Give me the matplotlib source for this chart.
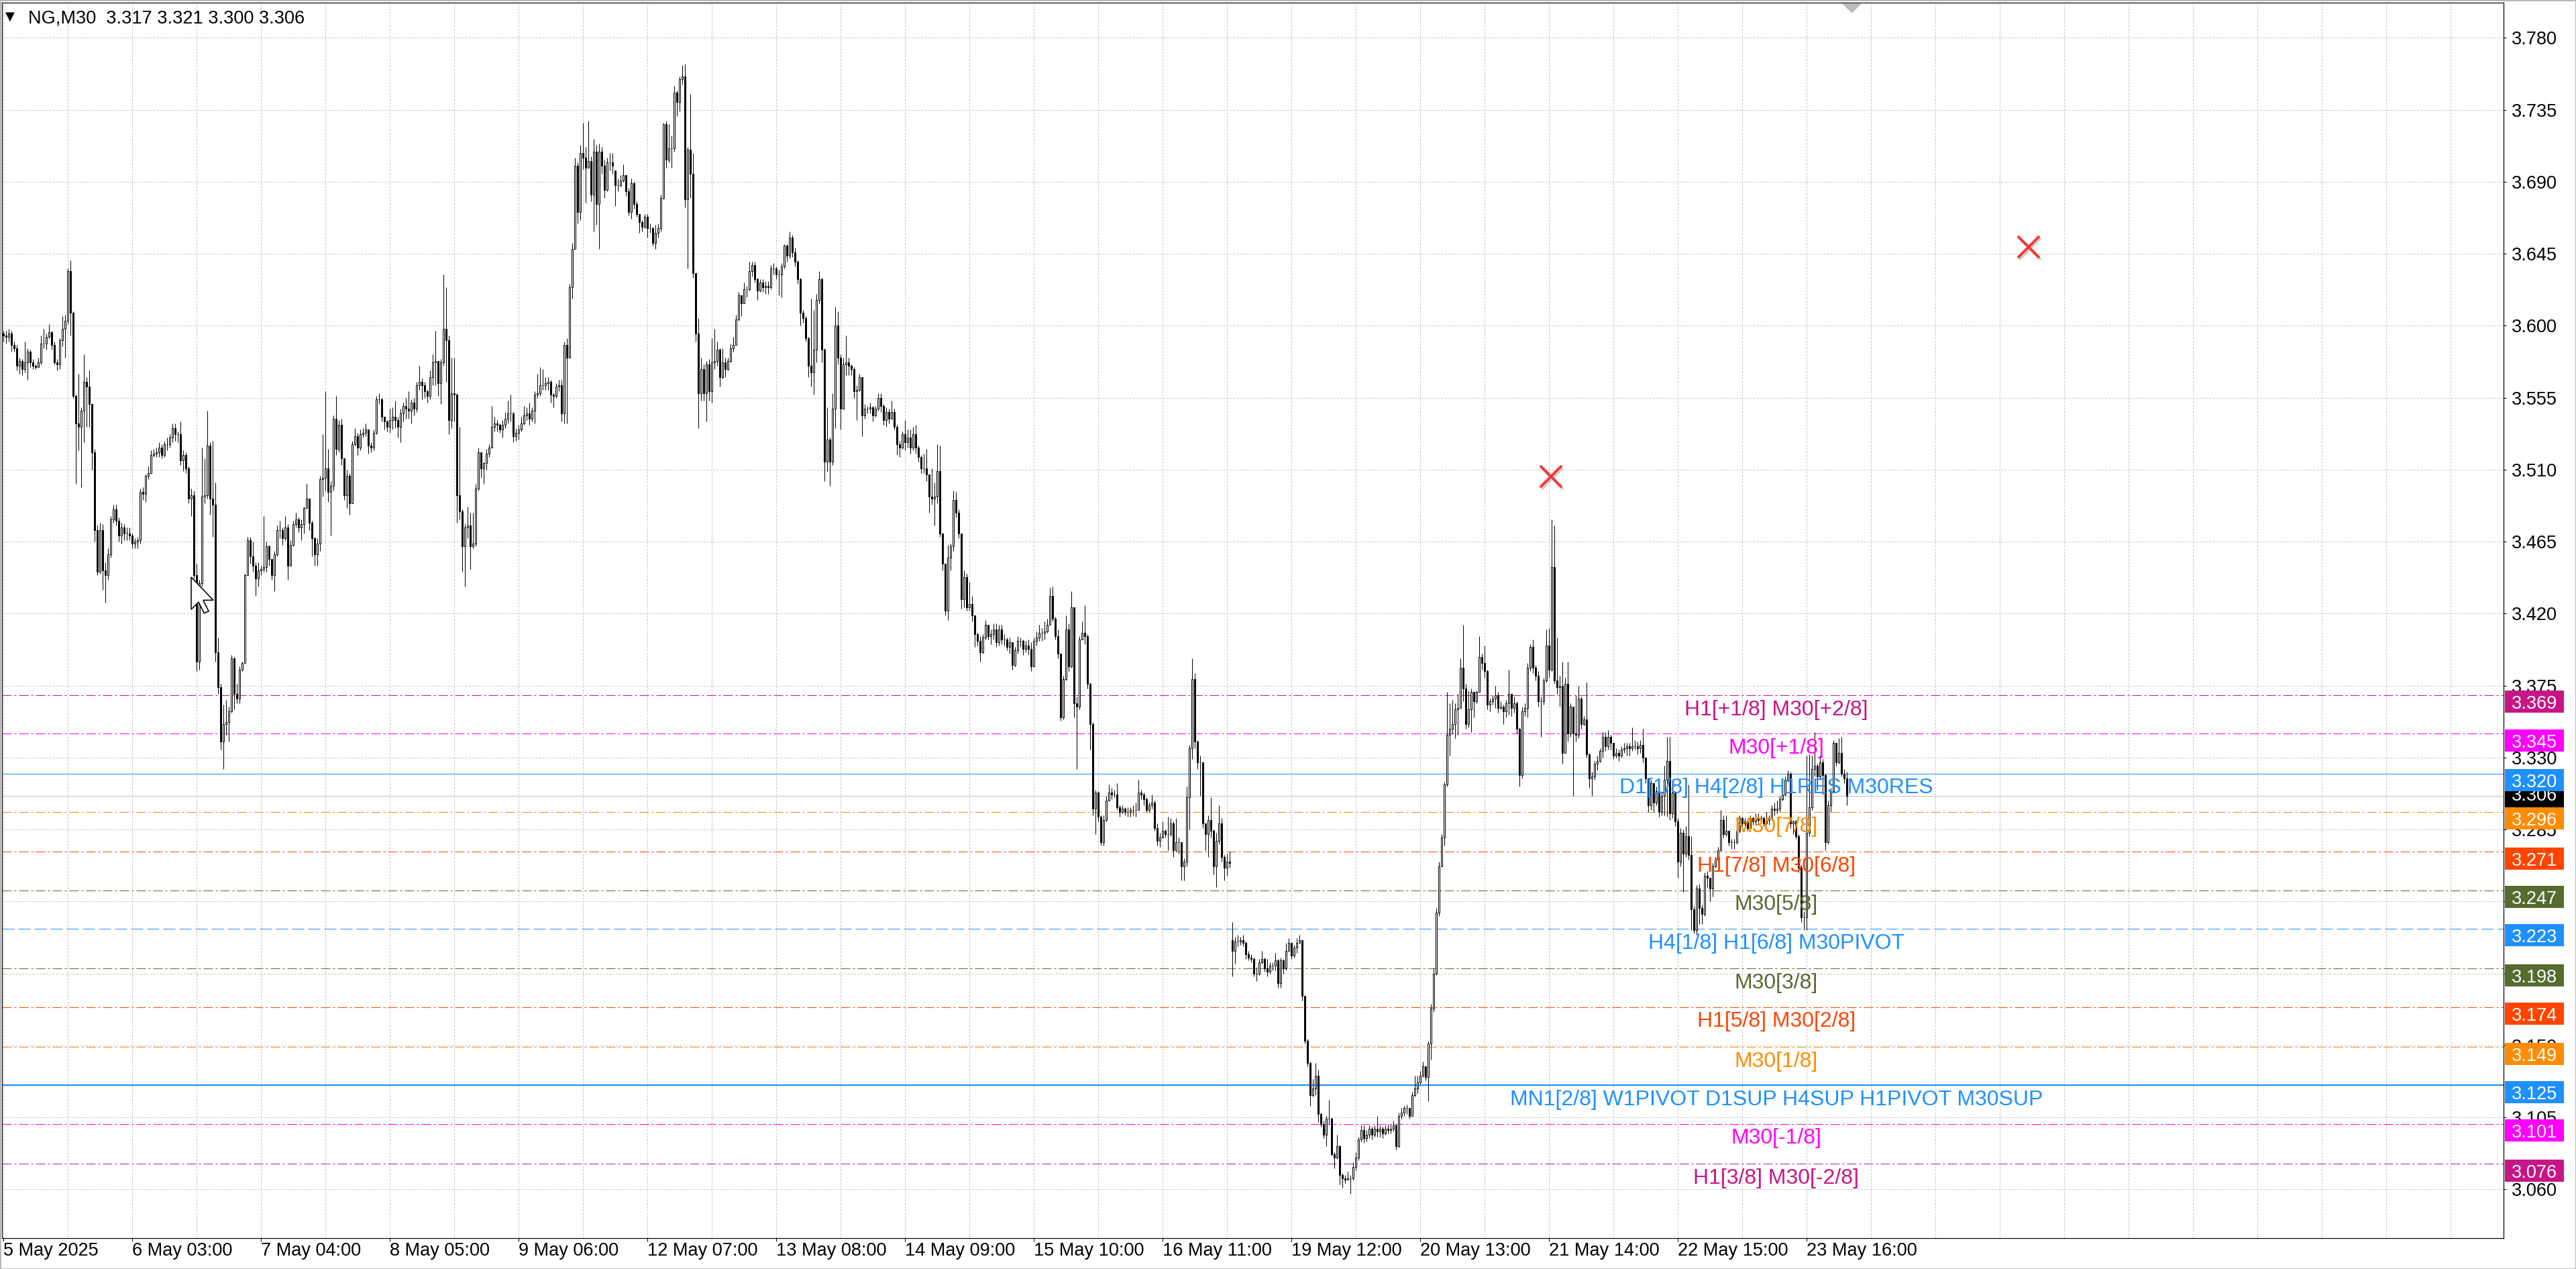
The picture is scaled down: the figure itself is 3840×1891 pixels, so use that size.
import numpy as np
import matplotlib
matplotlib.use("Agg")
import matplotlib.pyplot as plt
from matplotlib import transforms
from matplotlib.patches import Rectangle, Polygon
from matplotlib.markers import MarkerStyle

plt.rcParams['font.family'] = ['Liberation Sans', 'DejaVu Sans']

# ---------------- data (prices in thousandths, NG M30 bars) ----------------
w1_open = 3595
w1_close = [
    3594, 3593, 3595, 3588, 3586, 3575, 3578, 3573, 3577, 3584,
    3577, 3575, 3574, 3577, 3589, 3589, 3593, 3596, 3588, 3577,
    3576, 3591, 3598, 3603, 3634, 3608, 3556, 3539, 3537, 3547,
    3565, 3562, 3551, 3521, 3472, 3446, 3472, 3447, 3444, 3457,
    3479, 3485, 3478, 3469, 3474, 3470, 3470, 3469, 3464, 3465,
    3466, 3496, 3495, 3506, 3508, 3519, 3520, 3521, 3524, 3519,
    3526, 3526, 3530, 3536, 3532, 3532, 3516, 3519, 3511, 3492,
    3494, 3444, 3390, 3439, 3493, 3494, 3525, 3492, 3488, 3396,
    3374, 3340, 3351, 3352, 3359, 3392, 3370, 3367, 3385, 3389,
    3444, 3466, 3456, 3450, 3442, 3447, 3448, 3449, 3462, 3454,
    3444, 3457, 3472, 3472, 3467, 3474, 3450, 3463, 3476, 3479,
    3474, 3476, 3486, 3492, 3477, 3467, 3457, 3464, 3504, 3505,
    3511, 3496, 3500, 3542, 3523, 3538, 3517, 3494, 3506, 3489,
    3526, 3531, 3524, 3532, 3533, 3535, 3525, 3524, 3533, 3554,
    3554, 3543, 3540, 3537, 3541, 3543, 3541, 3537, 3545, 3550,
    3548, 3547, 3552, 3548, 3563, 3565, 3563, 3559, 3556, 3568,
    3577, 3578, 3564, 3577, 3598, 3591, 3541, 3558, 3557, 3494,
    3484, 3462, 3474, 3475, 3462, 3464, 3498, 3521, 3511, 3514,
    3520, 3524, 3537, 3539, 3538, 3535, 3538, 3542, 3545, 3545,
    3531, 3533, 3535, 3539, 3544, 3545, 3542, 3547, 3557, 3558,
    3563, 3563, 3564, 3565, 3557, 3556, 3562, 3563, 3545, 3588,
    3580, 3624, 3648, 3700, 3671, 3708, 3705, 3699, 3703, 3682,
    3709, 3676, 3709, 3700, 3685, 3702, 3702, 3700]
w1_high = [
    3597, 3597, 3598, 3597, 3590, 3588, 3580, 3579, 3590, 3586,
    3585, 3579, 3576, 3580, 3594, 3598, 3595, 3601, 3597, 3590,
    3579, 3592, 3606, 3607, 3636, 3641, 3609, 3557, 3570, 3549,
    3582, 3568, 3572, 3550, 3523, 3475, 3477, 3476, 3452, 3461,
    3481, 3488, 3488, 3480, 3477, 3476, 3474, 3474, 3470, 3467,
    3468, 3498, 3499, 3507, 3512, 3522, 3523, 3524, 3527, 3526,
    3528, 3530, 3532, 3539, 3539, 3534, 3540, 3522, 3521, 3512,
    3498, 3497, 3451, 3441, 3524, 3517, 3547, 3527, 3528, 3502,
    3405, 3376, 3363, 3366, 3362, 3394, 3393, 3376, 3387, 3390,
    3445, 3468, 3468, 3465, 3452, 3452, 3450, 3481, 3465, 3463,
    3452, 3459, 3475, 3478, 3474, 3481, 3476, 3466, 3478, 3483,
    3480, 3479, 3487, 3501, 3492, 3478, 3468, 3467, 3506, 3532,
    3559, 3523, 3503, 3544, 3556, 3541, 3542, 3514, 3510, 3508,
    3528, 3536, 3533, 3535, 3536, 3539, 3534, 3527, 3535, 3556,
    3558, 3555, 3543, 3541, 3548, 3549, 3553, 3543, 3548, 3552,
    3555, 3559, 3554, 3555, 3565, 3575, 3567, 3565, 3560, 3572,
    3582, 3597, 3578, 3579, 3632, 3624, 3594, 3580, 3580, 3558,
    3537, 3485, 3476, 3487, 3483, 3483, 3501, 3524, 3521, 3515,
    3523, 3526, 3550, 3543, 3541, 3539, 3541, 3546, 3553, 3557,
    3546, 3536, 3538, 3543, 3550, 3549, 3552, 3549, 3559, 3570,
    3574, 3573, 3568, 3568, 3566, 3558, 3564, 3566, 3566, 3590,
    3592, 3626, 3652, 3705, 3702, 3713, 3727, 3712, 3728, 3706,
    3717, 3713, 3714, 3712, 3704, 3705, 3708, 3708]
w1_low = [
    3590, 3589, 3590, 3584, 3584, 3572, 3570, 3569, 3571, 3566,
    3574, 3573, 3573, 3574, 3576, 3586, 3585, 3592, 3585, 3576,
    3572, 3573, 3587, 3580, 3601, 3594, 3555, 3501, 3522, 3499,
    3527, 3537, 3537, 3510, 3465, 3444, 3445, 3435, 3427, 3441,
    3455, 3477, 3475, 3465, 3464, 3466, 3466, 3466, 3461, 3461,
    3461, 3464, 3491, 3490, 3504, 3508, 3518, 3518, 3518, 3517,
    3518, 3522, 3524, 3527, 3528, 3527, 3513, 3509, 3508, 3489,
    3481, 3442, 3384, 3385, 3437, 3489, 3492, 3482, 3468, 3390,
    3370, 3335, 3323, 3344, 3340, 3358, 3360, 3364, 3364, 3384,
    3403, 3444, 3451, 3446, 3431, 3437, 3444, 3446, 3446, 3450,
    3441, 3434, 3456, 3467, 3463, 3466, 3441, 3452, 3462, 3474,
    3471, 3466, 3470, 3486, 3472, 3456, 3450, 3450, 3459, 3493,
    3497, 3490, 3469, 3497, 3519, 3521, 3513, 3491, 3486, 3482,
    3489, 3525, 3519, 3522, 3530, 3531, 3520, 3521, 3522, 3532,
    3551, 3540, 3535, 3534, 3533, 3535, 3536, 3530, 3527, 3540,
    3542, 3542, 3539, 3544, 3546, 3560, 3554, 3555, 3552, 3554,
    3563, 3563, 3556, 3551, 3575, 3565, 3532, 3536, 3540, 3477,
    3479, 3446, 3437, 3467, 3448, 3461, 3462, 3497, 3505, 3501,
    3510, 3518, 3528, 3534, 3534, 3533, 3530, 3536, 3539, 3540,
    3527, 3528, 3529, 3534, 3538, 3541, 3538, 3540, 3539, 3555,
    3556, 3560, 3560, 3560, 3552, 3549, 3555, 3559, 3540, 3539,
    3539, 3580, 3617, 3648, 3664, 3666, 3698, 3677, 3699, 3678,
    3659, 3663, 3648, 3695, 3680, 3684, 3697, 3695]

w2_open = 3697
w2_close = [
    3688, 3688, 3691, 3694, 3684, 3671, 3689, 3676, 3670, 3665,
    3662, 3668, 3661, 3661, 3652, 3658, 3661, 3680, 3726, 3704,
    3711, 3711, 3746, 3740, 3754, 3756, 3679, 3710, 3695, 3633,
    3595, 3558, 3573, 3558, 3576, 3559, 3577, 3578, 3585, 3568,
    3577, 3573, 3578, 3586, 3588, 3604, 3619, 3614, 3623, 3623,
    3634, 3638, 3629, 3622, 3627, 3624, 3625, 3624, 3636, 3636,
    3632, 3632, 3637, 3650, 3644, 3655, 3646, 3640, 3629, 3608,
    3605, 3592, 3575, 3571, 3585, 3616, 3629, 3585, 3515, 3529,
    3515, 3548, 3600, 3580, 3548, 3576, 3577, 3575, 3573, 3559,
    3560, 3568, 3544, 3548, 3548, 3549, 3544, 3548, 3555, 3550,
    3541, 3546, 3542, 3546, 3537, 3526, 3524, 3532, 3527, 3530,
    3524, 3532, 3524, 3518, 3511, 3511, 3507, 3493, 3492, 3493,
    3509, 3470, 3451, 3422, 3455, 3462, 3491, 3483, 3470, 3429,
    3443, 3424, 3426, 3419, 3407, 3403, 3396, 3405, 3413, 3406,
    3407, 3410, 3402, 3410, 3404, 3404, 3399, 3402, 3388, 3397,
    3403, 3403, 3398, 3400, 3398, 3387, 3403, 3405, 3408, 3408,
    3409, 3413, 3431, 3417, 3406, 3395, 3355, 3379, 3410, 3387,
    3424, 3364, 3362, 3404, 3408, 3406, 3376, 3351, 3298, 3308,
    3293, 3277, 3291, 3303, 3308, 3307, 3307, 3299, 3296, 3298,
    3296, 3296, 3297, 3297, 3297, 3308, 3307, 3304, 3297, 3300,
    3302, 3286, 3278, 3280, 3284, 3282, 3282, 3289, 3272, 3277,
    3277, 3262, 3265, 3305, 3336, 3379, 3340, 3327, 3327, 3289,
    3282, 3291, 3284, 3262, 3278, 3289, 3268, 3261, 3265, 3264]
w2_high = [
    3697, 3692, 3694, 3701, 3694, 3686, 3692, 3690, 3678, 3670,
    3666, 3670, 3670, 3664, 3662, 3663, 3664, 3682, 3727, 3728,
    3726, 3719, 3750, 3747, 3756, 3763, 3764, 3712, 3745, 3708,
    3632, 3605, 3580, 3576, 3578, 3579, 3592, 3598, 3590, 3586,
    3586, 3580, 3580, 3589, 3593, 3607, 3621, 3616, 3627, 3625,
    3640, 3640, 3640, 3630, 3629, 3629, 3628, 3628, 3638, 3639,
    3637, 3635, 3639, 3651, 3651, 3659, 3657, 3649, 3641, 3630,
    3610, 3606, 3593, 3617, 3610, 3620, 3634, 3630, 3586, 3549,
    3530, 3558, 3612, 3609, 3582, 3580, 3594, 3580, 3576, 3574,
    3563, 3570, 3554, 3551, 3550, 3552, 3550, 3550, 3558, 3558,
    3551, 3549, 3548, 3553, 3548, 3538, 3528, 3534, 3541, 3535,
    3535, 3537, 3538, 3525, 3519, 3520, 3523, 3507, 3511, 3502,
    3526, 3525, 3470, 3450, 3463, 3464, 3497, 3496, 3485, 3470,
    3447, 3445, 3440, 3431, 3418, 3408, 3406, 3407, 3416, 3409,
    3410, 3414, 3414, 3413, 3413, 3407, 3405, 3405, 3400, 3399,
    3406, 3405, 3404, 3403, 3404, 3402, 3405, 3409, 3413, 3411,
    3415, 3417, 3436, 3437, 3418, 3410, 3395, 3381, 3419, 3414,
    3434, 3424, 3368, 3406, 3415, 3425, 3407, 3377, 3352, 3310,
    3309, 3294, 3294, 3306, 3313, 3311, 3310, 3314, 3300, 3300,
    3299, 3299, 3299, 3300, 3302, 3316, 3310, 3308, 3305, 3302,
    3307, 3303, 3289, 3283, 3290, 3285, 3293, 3292, 3290, 3292,
    3280, 3275, 3267, 3312, 3338, 3392, 3383, 3341, 3331, 3327,
    3287, 3294, 3305, 3285, 3283, 3300, 3292, 3269, 3270, 3271]
w2_low = [
    3675, 3684, 3687, 3690, 3681, 3669, 3667, 3673, 3668, 3658,
    3659, 3661, 3655, 3658, 3650, 3648, 3655, 3659, 3679, 3699,
    3702, 3699, 3709, 3731, 3734, 3751, 3674, 3636, 3680, 3630,
    3590, 3536, 3553, 3553, 3540, 3553, 3552, 3573, 3575, 3562,
    3567, 3568, 3572, 3577, 3584, 3588, 3603, 3606, 3614, 3618,
    3622, 3631, 3627, 3616, 3621, 3621, 3620, 3620, 3623, 3632,
    3629, 3619, 3618, 3636, 3640, 3642, 3643, 3637, 3626, 3600,
    3602, 3590, 3568, 3562, 3557, 3577, 3614, 3577, 3503, 3509,
    3500, 3513, 3536, 3576, 3535, 3550, 3569, 3569, 3569, 3555,
    3541, 3559, 3531, 3542, 3545, 3545, 3540, 3543, 3547, 3546,
    3538, 3537, 3539, 3542, 3535, 3519, 3518, 3523, 3522, 3524,
    3520, 3522, 3520, 3515, 3508, 3508, 3503, 3483, 3488, 3475,
    3489, 3468, 3447, 3419, 3416, 3447, 3459, 3480, 3467, 3423,
    3424, 3422, 3422, 3415, 3399, 3400, 3390, 3395, 3404, 3404,
    3401, 3404, 3399, 3400, 3401, 3400, 3397, 3395, 3385, 3387,
    3395, 3399, 3394, 3396, 3394, 3384, 3387, 3400, 3403, 3403,
    3404, 3408, 3413, 3415, 3404, 3392, 3353, 3354, 3378, 3384,
    3386, 3355, 3323, 3360, 3404, 3401, 3373, 3335, 3294, 3282,
    3290, 3275, 3275, 3290, 3303, 3304, 3305, 3297, 3293, 3295,
    3294, 3293, 3293, 3294, 3293, 3300, 3304, 3300, 3296, 3296,
    3298, 3284, 3275, 3274, 3280, 3280, 3272, 3281, 3268, 3271,
    3270, 3253, 3253, 3262, 3285, 3329, 3336, 3323, 3306, 3286,
    3272, 3268, 3280, 3257, 3249, 3276, 3265, 3253, 3256, 3261]

w3_open = 3216
w3_close = [
    3209, 3215, 3215, 3216, 3214, 3207, 3205, 3204, 3195, 3195,
    3202, 3204, 3198, 3196, 3200, 3200, 3203, 3189, 3203, 3198,
    3209, 3214, 3206, 3211, 3214, 3216, 3181, 3153, 3139, 3119,
    3123, 3131, 3107, 3101, 3094, 3104, 3104, 3082, 3080, 3087,
    3069, 3067, 3066, 3067, 3067, 3074, 3080, 3091, 3097, 3092,
    3094, 3098, 3094, 3098, 3096, 3098, 3095, 3098, 3097, 3098,
    3100, 3087, 3106, 3108, 3111, 3111, 3106, 3119, 3123, 3127,
    3131, 3137, 3130, 3151, 3173, 3195, 3233, 3262, 3280, 3313,
    3344, 3348, 3351, 3360, 3361, 3386, 3373, 3351, 3360, 3371,
    3365, 3371, 3393, 3389, 3384, 3363, 3365, 3367, 3369, 3361,
    3362, 3359, 3364, 3370, 3361, 3364, 3348, 3319, 3359, 3361,
    3386, 3399, 3386, 3381, 3365, 3365, 3378, 3400, 3385, 3449,
    3378, 3374, 3375, 3333, 3376, 3345, 3362, 3345, 3344, 3367,
    3351, 3354, 3332, 3317, 3318, 3326, 3328, 3334, 3343, 3337,
    3343, 3339, 3331, 3333, 3331, 3335, 3336, 3337, 3336, 3337,
    3337, 3336, 3338, 3330, 3317, 3300, 3314, 3302, 3309, 3296,
    3306, 3316, 3328, 3295, 3308, 3290, 3265, 3283, 3270, 3281,
    3269, 3235, 3222, 3248, 3236, 3232, 3256, 3255, 3248, 3262,
    3266, 3272, 3291, 3282, 3284, 3277, 3277, 3277, 3284, 3292,
    3289, 3290, 3286, 3292, 3290, 3292, 3291, 3292, 3289, 3291,
    3292, 3298, 3297, 3298, 3304, 3307, 3316, 3320, 3289, 3290,
    3281, 3261, 3230, 3230, 3283, 3299, 3323, 3325, 3318, 3327,
    3319, 3277, 3300, 3309, 3339, 3327, 3333, 3320, 3317, 3306]
w3_high = [
    3227, 3218, 3219, 3218, 3219, 3215, 3209, 3207, 3205, 3199,
    3204, 3209, 3205, 3204, 3202, 3202, 3208, 3204, 3205, 3204,
    3214, 3217, 3214, 3213, 3217, 3219, 3216, 3181, 3154, 3140,
    3129, 3139, 3135, 3108, 3103, 3106, 3116, 3105, 3083, 3094,
    3088, 3070, 3069, 3071, 3069, 3077, 3083, 3093, 3100, 3100,
    3097, 3100, 3099, 3100, 3106, 3100, 3099, 3100, 3101, 3101,
    3103, 3101, 3108, 3111, 3112, 3113, 3111, 3121, 3131, 3131,
    3134, 3140, 3137, 3153, 3176, 3198, 3236, 3265, 3282, 3315,
    3371, 3364, 3366, 3364, 3370, 3392, 3413, 3376, 3372, 3373,
    3371, 3372, 3406, 3395, 3400, 3385, 3367, 3369, 3375, 3371,
    3365, 3363, 3366, 3385, 3370, 3368, 3365, 3349, 3362, 3364,
    3389, 3401, 3404, 3388, 3384, 3368, 3380, 3410, 3411, 3479,
    3475, 3405, 3381, 3390, 3380, 3390, 3364, 3350, 3369, 3375,
    3368, 3356, 3377, 3333, 3321, 3328, 3331, 3336, 3346, 3346,
    3347, 3344, 3339, 3336, 3335, 3337, 3339, 3339, 3339, 3349,
    3341, 3340, 3341, 3348, 3329, 3317, 3316, 3314, 3312, 3307,
    3309, 3325, 3343, 3343, 3316, 3309, 3292, 3286, 3285, 3287,
    3313, 3281, 3237, 3250, 3251, 3238, 3258, 3259, 3254, 3264,
    3268, 3274, 3297, 3294, 3294, 3284, 3279, 3279, 3286, 3294,
    3293, 3292, 3291, 3294, 3293, 3295, 3295, 3294, 3293, 3296,
    3294, 3300, 3302, 3303, 3306, 3309, 3318, 3322, 3321, 3291,
    3291, 3282, 3263, 3234, 3331, 3332, 3331, 3346, 3326, 3331,
    3329, 3320, 3303, 3311, 3341, 3339, 3342, 3343, 3323, 3321]
w3_low = [
    3193, 3201, 3212, 3213, 3212, 3204, 3203, 3202, 3193, 3190,
    3194, 3201, 3196, 3193, 3195, 3197, 3197, 3186, 3186, 3195,
    3197, 3209, 3204, 3205, 3208, 3214, 3178, 3151, 3137, 3112,
    3118, 3119, 3102, 3099, 3092, 3087, 3101, 3081, 3073, 3079,
    3063, 3061, 3064, 3066, 3057, 3066, 3072, 3078, 3090, 3089,
    3090, 3092, 3091, 3093, 3093, 3093, 3092, 3094, 3095, 3095,
    3096, 3085, 3086, 3104, 3106, 3107, 3104, 3106, 3118, 3120,
    3126, 3130, 3128, 3115, 3141, 3171, 3194, 3231, 3264, 3275,
    3312, 3331, 3345, 3342, 3344, 3361, 3365, 3348, 3349, 3346,
    3355, 3364, 3379, 3385, 3380, 3360, 3359, 3363, 3361, 3358,
    3360, 3351, 3355, 3357, 3356, 3358, 3345, 3312, 3317, 3356,
    3355, 3384, 3383, 3378, 3362, 3343, 3363, 3377, 3380, 3384,
    3376, 3370, 3362, 3326, 3334, 3340, 3343, 3306, 3340, 3342,
    3348, 3350, 3330, 3311, 3306, 3316, 3322, 3327, 3330, 3334,
    3335, 3335, 3329, 3330, 3328, 3330, 3333, 3331, 3331, 3334,
    3335, 3332, 3333, 3327, 3314, 3296, 3297, 3296, 3300, 3293,
    3294, 3294, 3293, 3291, 3292, 3287, 3255, 3262, 3246, 3268,
    3266, 3222, 3220, 3219, 3226, 3226, 3231, 3249, 3240, 3243,
    3261, 3265, 3274, 3280, 3281, 3275, 3273, 3273, 3276, 3283,
    3287, 3286, 3284, 3286, 3288, 3288, 3289, 3289, 3287, 3288,
    3288, 3291, 3294, 3295, 3296, 3303, 3306, 3315, 3286, 3282,
    3279, 3258, 3227, 3222, 3222, 3281, 3297, 3318, 3310, 3316,
    3307, 3272, 3276, 3296, 3308, 3325, 3326, 3318, 3314, 3300]

x_labels = ["5 May 2025", "6 May 03:00", "7 May 04:00", "8 May 05:00", "9 May 06:00",
            "12 May 07:00", "13 May 08:00", "14 May 09:00", "15 May 10:00", "16 May 11:00",
            "19 May 12:00", "20 May 13:00", "21 May 14:00", "22 May 15:00", "23 May 16:00"]
bars_per_label = 48
grid_every = 24

y_labels = ["3.780", "3.735", "3.690", "3.645", "3.600", "3.555", "3.510", "3.465", "3.420",
            "3.375", "3.330", "3.285", "3.240", "3.195", "3.150", "3.105", "3.060"]

level_price = [3.369, 3.345, 3.320, 3.296, 3.271, 3.247, 3.223, 3.198, 3.174, 3.149, 3.125, 3.101, 3.076]
level_text = ["H1[+1/8] M30[+2/8]", "M30[+1/8]", "D1[1/8] H4[2/8] H1RES M30RES", "M30[7/8]",
              "H1[7/8] M30[6/8]", "M30[5/8]", "H4[1/8] H1[6/8] M30PIVOT", "M30[3/8]",
              "H1[5/8] M30[2/8]", "M30[1/8]", "MN1[2/8] W1PIVOT D1SUP H4SUP H1PIVOT M30SUP",
              "M30[-1/8]", "H1[3/8] M30[-2/8]"]
level_color = ["#C71585", "#FF00FF", "#1E90FF", "#FF8C00", "#FF4500", "#556B2F", "#1E90FF",
               "#556B2F", "#FF4500", "#FF8C00", "#1E90FF", "#FF00FF", "#C71585"]
level_style = ["dashdot", "dashdot", "solid", "dashdot", "dashdot", "dashdot", "dashed",
               "dashdot", "dashdot", "dashdot", "thick", "dashdot", "dashdot"]
level_label_bar = 660.6

bid_price = 3.306
cross_x = [576.7, 754.7]
cross_y = [3.5057, 3.6493]
shift_mark_x = 688.65

# ---------------- assemble bars ----------------
def opens_for(first_open, closes):
    return [first_open] + closes[:-1]

o = np.array(opens_for(w1_open, w1_close) + opens_for(w2_open, w2_close) + opens_for(w3_open, w3_close)) / 1000.0
c = np.array(w1_close + w2_close + w3_close) / 1000.0
h = np.array(w1_high + w2_high + w3_high) / 1000.0
l = np.array(w1_low + w2_low + w3_low) / 1000.0
x = np.arange(len(c))

# ---------------- figure ----------------
W, H, DPI = 3840, 1891, 100
PX = 72.0 / DPI
fig = plt.figure(figsize=(W / DPI, H / DPI), dpi=DPI)
fig.patch.set_facecolor("white")
AX_L, AX_R, AX_T, AX_B = 3, 3732, 4, 1845
ax = fig.add_axes([AX_L / W, 1 - AX_B / H, (AX_R - AX_L) / W, (AX_B - AX_T) / H])
ax.set_xlim(-0.6, 931.65)
ax.set_ylim(3.02947, 3.80203)
ppu = (AX_B - AX_T) / (3.80203 - 3.02947)   # pixels per price unit

for s in ax.spines.values():
    s.set_color("black")
    s.set_linewidth(1.2 * PX)

# grid
ax.set_axisbelow(True)
yt = [float(v) for v in y_labels]
ax.set_yticks(yt)
ax.set_yticklabels(y_labels)
ax.yaxis.tick_right()
ax.tick_params(axis="y", direction="out", length=4 * PX, width=PX, pad=8 * PX,
               labelsize=19.5, colors="black")
xt = [k * bars_per_label for k in range(len(x_labels))]
ax.set_xticks(xt)
ax.set_xticklabels(x_labels, ha="left")
ax.set_xticks(np.arange(0, 932, grid_every), minor=True)
ax.tick_params(axis="x", which="major", direction="out", length=4.5 * PX, width=PX, pad=1.0,
               labelsize=19.5, colors="black")
ax.tick_params(axis="x", which="minor", length=0)
gkw = dict(color="#C4C4C4", linewidth=PX, linestyle=(0, (3, 2)))
ax.grid(True, which="both", axis="x", **gkw)
ax.grid(True, which="major", axis="y", **gkw)

# level lines
for p, col, st in zip(level_price, level_color, level_style):
    if st == "dashdot":
        ax.axhline(p, color=col, linewidth=PX, linestyle=(0, (14, 4, 3, 4)), zorder=1)
    elif st == "dashed":
        ax.axhline(p, color=col, linewidth=PX, linestyle=(0, (18, 6)), zorder=1)
    elif st == "thick":
        ax.axhline(p, color=col, linewidth=2.2 * PX, linestyle="-", zorder=1)
    else:
        ax.axhline(p, color=col, linewidth=PX, linestyle="-", zorder=1)
ax.axhline(bid_price, color="#C0C0C0", linewidth=PX, zorder=1)

# candles
ax.vlines(x, l, h, colors="black", linewidth=PX, zorder=2)
up = c >= o
dn = ~up
ax.bar(x[up], (c - o)[up], bottom=o[up], width=0.5, facecolor="white", edgecolor="black",
       linewidth=PX, zorder=3)
ax.bar(x[dn], (o - c)[dn], bottom=c[dn], width=0.5, facecolor="black", edgecolor="black",
       linewidth=PX, zorder=3)

# level labels
for p, t, col in zip(level_price, level_text, level_color):
    ax.text(level_label_bar, p - 29.8 / ppu, t, color=col, fontsize=23, ha="center",
            va="baseline", zorder=4)

# crosses
shadow_tr = transforms.offset_copy(ax.transData, fig=fig, x=2, y=-3, units="dots")
xm = MarkerStyle("x", capstyle="round")
ax.plot(cross_x, cross_y, linestyle="none", marker=xm, markersize=22, markeredgewidth=4 * PX,
        color="#9A9A9A", alpha=0.45, transform=shadow_tr, zorder=5)
ax.plot(cross_x, cross_y, linestyle="none", marker=xm, markersize=22, markeredgewidth=4 * PX,
        color="#F23A3A", zorder=6)

# chart-shift marker at the top
tri = MarkerStyle([(-1.0, 0.5), (1.0, 0.5), (0.0, -0.5)])
ax.plot([shift_mark_x], [3.80203 - 8 / ppu], linestyle="none", marker=tri, markersize=21,
        color="#BDBDBD", markeredgewidth=0, clip_on=False, zorder=7)

# price tags on the right scale
blend = transforms.blended_transform_factory(ax.transAxes, ax.transData)
axw = AX_R - AX_L
bx0 = (3734 - AX_L) / axw
bw = 88 / axw
tx = (3744 - AX_L) / axw
box_h = 33 / ppu
ax.add_patch(Rectangle((bx0, bid_price - 16.5 / ppu), bw, box_h, transform=blend,
                       facecolor="black", edgecolor="none", clip_on=False, zorder=8))
ax.text(tx, bid_price - 7.0 / ppu, f"{bid_price:.3f}", transform=blend, color="white",
        fontsize=19.5, ha="left", va="baseline", clip_on=False, zorder=9)
for p, col in zip(level_price, level_color):
    ax.add_patch(Rectangle((bx0, p - 26.5 / ppu), bw, box_h, transform=blend,
                           facecolor=col, edgecolor="none", clip_on=False, zorder=10))
    ax.text(tx, p - 20.5 / ppu, f"{p:.3f}", transform=blend, color="white",
            fontsize=19.5, ha="left", va="baseline", clip_on=False, zorder=11)

# title
fig.text(8 / W, 1 - 25 / H, "\u25BC", fontsize=13, family="DejaVu Sans", color="black",
         ha="left", va="center")
title = "NG,M30  {:.3f} {:.3f} {:.3f} {:.3f}".format(o[-1], h[-1], l[-1], c[-1])
fig.text(42 / W, 1 - 35 / H, title, fontsize=19.5, color="black", ha="left", va="baseline")

# mouse pointer left on the screen (UI decoration, figure pixels)
tip_x, tip_y, sc = 285, 860, 2.75
shape = [(0, 0), (0, 17.5), (4, 13.5), (7, 19.5), (9.5, 18.5), (6.5, 12.5), (12, 12.5)]
pts = [((tip_x + sc * u) / W, 1 - (tip_y + sc * v) / H) for u, v in shape]
fig.add_artist(Polygon(pts, closed=True, transform=fig.transFigure, facecolor="white",
                       edgecolor="black", linewidth=1.6 * PX, zorder=20))

# window border
fig.add_artist(Rectangle((0, 0), 1, 1, transform=fig.transFigure, fill=False,
                         edgecolor="#B8B8B8", linewidth=3 * PX))

fig.savefig("out.png", dpi=DPI, facecolor="white")
